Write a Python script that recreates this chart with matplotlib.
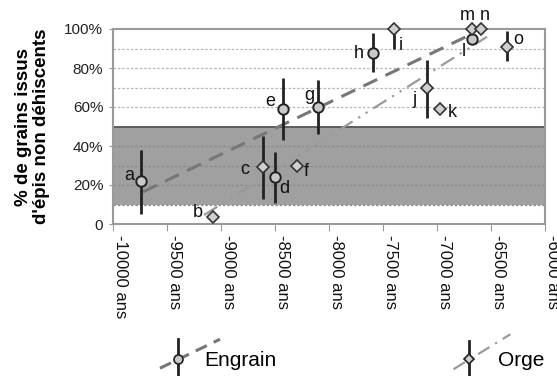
import matplotlib
matplotlib.use("Agg")
import matplotlib.pyplot as plt
from matplotlib.lines import Line2D
from matplotlib.legend_handler import HandlerBase
import numpy as np

plt.rcParams['font.family'] = ['Liberation Sans', 'DejaVu Sans']

# ---- data ----
eng_labels = ['a', 'd', 'e', 'g', 'h', 'l']
eng_years = [-9741, -8500, -8426, -8102, -7593, -6676]
eng_pct = [22, 24, 59, 60, 87.5, 95]
eng_lo = [5, 11, 43, 46, 78, 95]
eng_hi = [38, 37, 75, 74, 98, 95]

org_labels = ['b', 'c', 'f', 'i', 'j', 'k', 'm', 'n', 'o']
org_years = [-9074, -8611, -8296, -7398, -7093, -6972, -6676, -6593, -6352]
org_pct = [3.5, 29, 30, 100, 69.5, 59, 100, 100, 91]
org_lo = [3.5, 13, 30, 90, 54.5, 59, 100, 100, 83.5]
org_hi = [3.5, 45, 30, 110, 84, 59, 100, 100, 99]

eng_trend_x = [-9722, -6694]
eng_trend_y = [16.5, 97]
org_trend_x = [-9157, -6537]
org_trend_y = [4.6, 96]

xticks = list(range(-10000, -5999, 500))
xticklabels = [f"{t} ans" for t in xticks]
yticks = [0, 20, 40, 60, 80, 100]
yticklabels = ['0', '20%', '40%', '60%', '80%', '100%']

# label offsets in pixels (dx, dy up)
label_offsets = {
    'a': (-12, 6), 'b': (-15, 5), 'c': (-18, -2), 'd': (9, -11), 'e': (-13, 7),
    'f': (9, -6), 'g': (-9, 11), 'h': (-14, 0), 'i': (7, -16), 'j': (-13, -11),
    'k': (12, -4), 'l': (-8, -13), 'm': (-5, 14), 'n': (4, 14), 'o': (11, 7),
}

fig = plt.figure(figsize=(5.57, 3.76), dpi=100)
ax = fig.add_axes([113/557, 1-224/376, (545-113)/557, (224-29)/376])

ax.set_xlim(-10000, -6000)
ax.set_ylim(0, 100)

# band 10-50%
ax.axhspan(10, 50, color='#a0a0a0', zorder=0, lw=0)
ax.axhline(50, color='#555555', lw=1.3, zorder=1)
for g in range(10, 100, 10):
    if g == 50:
        continue
    ax.axhline(g, color='#b8b8b8' if g > 50 else '#8a8a8a', lw=0.9,
               ls=(0, (2, 1.5)), zorder=1)

# trend lines
ax.plot(eng_trend_x, eng_trend_y, color='#777777', lw=2.2, ls=(0, (5, 3)), zorder=2)
ax.plot(org_trend_x, org_trend_y, color='#9a9a9a', lw=1.6,
        ls=(0, (7, 3, 1, 3, 1, 3)), zorder=2)

# error bars
e_lo = np.array(eng_pct) - np.array(eng_lo)
e_hi = np.array(eng_hi) - np.array(eng_pct)
ax.errorbar(eng_years, eng_pct, yerr=[e_lo, e_hi], fmt='none', ecolor='#222222',
            elinewidth=2, capsize=0, zorder=3)
o_lo = np.array(org_pct) - np.array(org_lo)
o_hi = np.array(org_hi) - np.array(org_pct)
ax.errorbar(org_years, org_pct, yerr=[o_lo, o_hi], fmt='none', ecolor='#222222',
            elinewidth=2, capsize=0, zorder=3)

ax.plot(eng_years, eng_pct, 'o', ms=7.5, mfc='#c8c8c8', mec='#222222', mew=1.4,
        ls='none', zorder=4, clip_on=False)
ax.plot(org_years, org_pct, 'D', ms=6.5, mfc='#cfcfcf', mec='#333333', mew=1.2,
        ls='none', zorder=4, clip_on=False)

for lab, x, y in list(zip(eng_labels, eng_years, eng_pct)) + list(zip(org_labels, org_years, org_pct)):
    dx, dy = label_offsets[lab]
    ax.annotate(lab, (x, y), xytext=(dx * 0.72, dy * 0.72), textcoords='offset points',
                ha='center', va='center', fontsize=13, color='#111111', zorder=5,
                annotation_clip=False)

for sp in ax.spines.values():
    sp.set_color('#9a9a9a')
    sp.set_linewidth(1.5)

ax.set_xticks(xticks)
ax.set_xticklabels(xticklabels, rotation=270, fontsize=12, color='#111111', ha='left')
ax.set_yticks(yticks)
ax.set_yticklabels(yticklabels, fontsize=11, color='#222222')
ax.tick_params(axis='x', direction='out', length=5, color='#9a9a9a', pad=3)
ax.tick_params(axis='y', direction='out', length=3, color='#9a9a9a', pad=4)

ax.set_ylabel("% de grains issus\nd'épis non déhiscents", fontsize=13.5,
              fontweight='bold', labelpad=10, linespacing=1.1)


class HandlerTrend(HandlerBase):
    def __init__(self, ls, lcolor, lw, marker, ms, mfc, cxp, d0, d1, dlen, b0, b1):
        super().__init__()
        self.ls, self.lcolor, self.lw = ls, lcolor, lw
        self.marker, self.ms, self.mfc = marker, ms, mfc
        self.cxp, self.d0, self.d1, self.dlen, self.b0, self.b1 = cxp, d0, d1, dlen, b0, b1

    def create_artists(self, legend, orig_handle, xdescent, ydescent, width,
                       height, fontsize, trans):
        k = 0.72  # px -> pt
        x0 = -xdescent
        cy = height / 2 - ydescent
        cx = x0 + self.cxp * k
        diag = Line2D([x0, x0 + self.dlen * k], [cy + self.d0 * k, cy + self.d1 * k],
                      color=self.lcolor, lw=self.lw, ls=self.ls)
        vert = Line2D([cx, cx], [cy + self.b0 * k, cy + self.b1 * k],
                      color='#222222', lw=2)
        mk = Line2D([cx], [cy], marker=self.marker, ms=self.ms, mfc=self.mfc,
                    mec='#222222', mew=1.2, ls='none')
        arts = [diag, vert, mk]
        for a in arts:
            a.set_transform(trans)
        return arts


h1 = Line2D([], [])
h2 = Line2D([], [])
leg = fig.legend([h1, h2], ['Engrain', 'Orge'], loc='center left',
                 bbox_to_anchor=(160/557, 1-361/376), ncol=2, frameon=False,
                 fontsize=15, handlelength=1.78, handletextpad=0.34,
                 columnspacing=8.5, borderpad=0, borderaxespad=0,
                 handler_map={h1: HandlerTrend((0, (4, 2.5)), '#777777', 2.2, 'o', 6.5, '#c8c8c8',
                                               18, -9, 20, 60, -20, 20),
                              h2: HandlerTrend((0, (6, 3, 1, 3)), '#9a9a9a', 1.6, 'D', 5.5, '#cfcfcf',
                                               15, -10, 25, 57, -20, 18)})

fig.savefig('out.png', dpi=100)
